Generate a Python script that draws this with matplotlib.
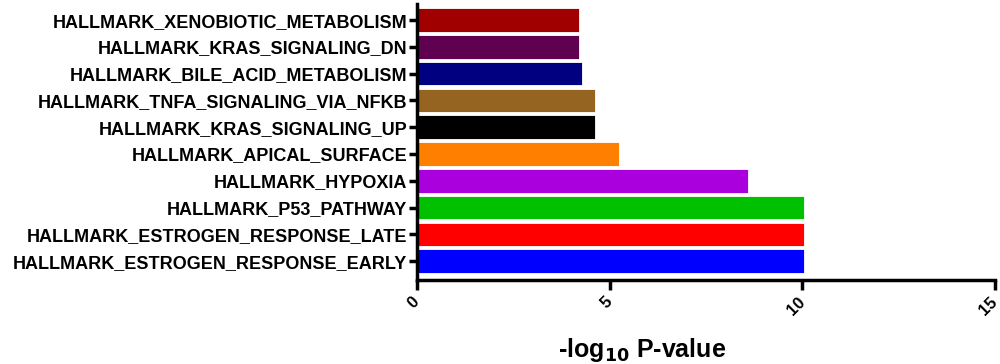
import matplotlib
matplotlib.use("Agg")
import matplotlib.pyplot as plt

# data, bottom to top
pathways = [
    "HALLMARK_ESTROGEN_RESPONSE_EARLY",
    "HALLMARK_ESTROGEN_RESPONSE_LATE",
    "HALLMARK_P53_PATHWAY",
    "HALLMARK_HYPOXIA",
    "HALLMARK_APICAL_SURFACE",
    "HALLMARK_KRAS_SIGNALING_UP",
    "HALLMARK_TNFA_SIGNALING_VIA_NFKB",
    "HALLMARK_BILE_ACID_METABOLISM",
    "HALLMARK_KRAS_SIGNALING_DN",
    "HALLMARK_XENOBIOTIC_METABOLISM",
]
neg_log_p = [10.05, 10.05, 10.05, 8.6, 5.25, 4.62, 4.63, 4.27, 4.2, 4.2]
colors = ["#0000FF", "#FF0000", "#00C000", "#AA00DD", "#FF8000",
          "#000000", "#946420", "#000080", "#600050", "#A00000"]
xticks = [0, 5, 10, 15]

plt.rcParams['font.family'] = ['Liberation Sans', 'DejaVu Sans']

fig = plt.figure(figsize=(10, 3.64), dpi=100)
ax = fig.add_axes([0.417, 0.231, 0.578, 0.758])

pos = list(range(len(pathways)))
ax.barh(pos, neg_log_p, height=0.88, color=colors, edgecolor="white", linewidth=0.6)

ax.set_xlim(0, 15)
ax.set_ylim(-0.7, 9.6)
ax.set_xticks(xticks)
ax.set_xticklabels([str(t) for t in xticks], rotation=45, ha="right", va="center",
                   rotation_mode="anchor", fontsize=12, fontweight="bold")
ax.set_yticks(pos)
ax.set_yticklabels(pathways, fontsize=13, fontweight="bold")

for side in ("top", "right"):
    ax.spines[side].set_visible(False)
for side in ("left", "bottom"):
    ax.spines[side].set_linewidth(2.5)
ax.tick_params(axis="x", length=7, width=2.5, pad=7)
ax.tick_params(axis="y", length=6, width=2.5, pad=1)

ax.set_xlabel("-log$_{\\mathbf{10}}$ P-value", fontsize=18, fontweight="bold")
ax.xaxis.set_label_coords(0.39, -0.205)

fig.savefig("out.png", dpi=100)
